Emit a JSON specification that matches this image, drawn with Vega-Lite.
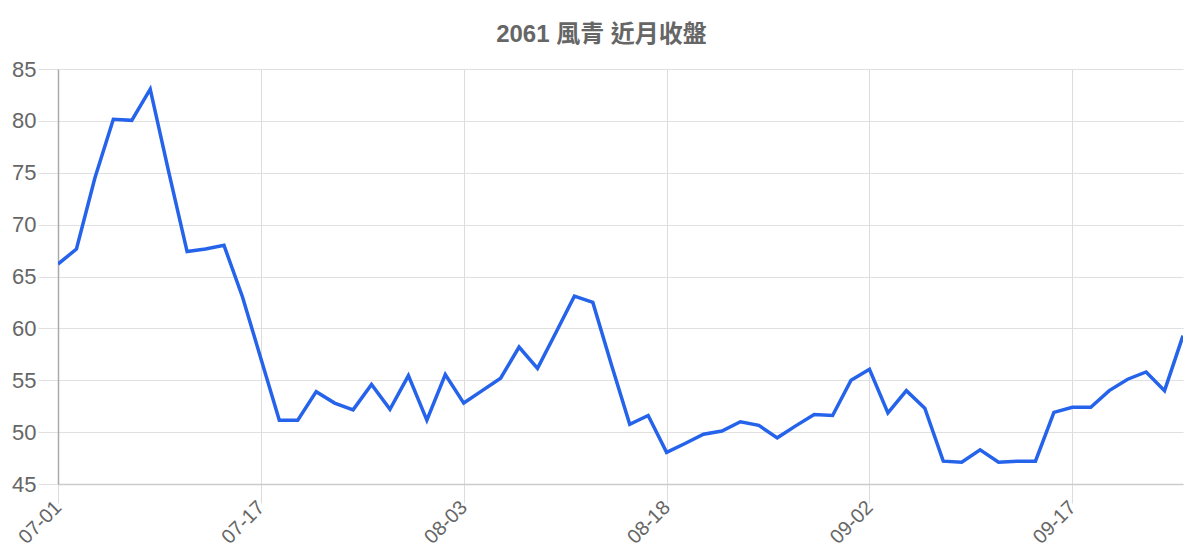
{
  "$schema": "https://vega.github.io/schema/vega-lite/v6.json",
  "width": 1125,
  "height": 415,
  "autosize": {"type": "none"},
  "padding": {"left": 58, "top": 69, "right": 17, "bottom": 76},
  "background": "white",
  "title": {
    "text": "2061 風青 近月收盤",
    "font": "Liberation Sans, Noto Sans CJK TC",
    "fontSize": 24,
    "fontWeight": "bold",
    "color": "#666666",
    "anchor": "middle",
    "offset": 11,
    "dx": -19
  },
  "config": {
    "view": {"stroke": null},
    "font": "Liberation Sans, Noto Sans CJK TC"
  },
  "data": {
    "values": [
      {"date": "07-01", "close": 66.2},
      {"date": "07-02", "close": 67.65},
      {"date": "07-03", "close": 74.5},
      {"date": "07-04", "close": 80.15},
      {"date": "07-07", "close": 80.05},
      {"date": "07-08", "close": 83.05},
      {"date": "07-09", "close": 75.1},
      {"date": "07-10", "close": 67.4},
      {"date": "07-11", "close": 67.65},
      {"date": "07-14", "close": 68.0},
      {"date": "07-15", "close": 63.05},
      {"date": "07-17", "close": 57.1},
      {"date": "07-18", "close": 51.15},
      {"date": "07-21", "close": 51.15},
      {"date": "07-22", "close": 53.9},
      {"date": "07-23", "close": 52.8},
      {"date": "07-24", "close": 52.15},
      {"date": "07-25", "close": 54.6},
      {"date": "07-28", "close": 52.2},
      {"date": "07-29", "close": 55.45},
      {"date": "07-30", "close": 51.15},
      {"date": "07-31", "close": 55.55},
      {"date": "08-03", "close": 52.8},
      {"date": "08-04", "close": 54.0},
      {"date": "08-05", "close": 55.2},
      {"date": "08-06", "close": 58.2},
      {"date": "08-07", "close": 56.15},
      {"date": "08-08", "close": 59.6},
      {"date": "08-11", "close": 63.1},
      {"date": "08-12", "close": 62.5},
      {"date": "08-13", "close": 56.55},
      {"date": "08-14", "close": 50.75},
      {"date": "08-15", "close": 51.6},
      {"date": "08-18", "close": 48.05},
      {"date": "08-19", "close": 48.9},
      {"date": "08-20", "close": 49.8},
      {"date": "08-21", "close": 50.1},
      {"date": "08-22", "close": 51.0},
      {"date": "08-25", "close": 50.65},
      {"date": "08-26", "close": 49.45},
      {"date": "08-27", "close": 50.6},
      {"date": "08-28", "close": 51.7},
      {"date": "08-29", "close": 51.6},
      {"date": "09-01", "close": 55.0},
      {"date": "09-02", "close": 56.05},
      {"date": "09-03", "close": 51.85},
      {"date": "09-04", "close": 54.0},
      {"date": "09-05", "close": 52.3},
      {"date": "09-08", "close": 47.2},
      {"date": "09-09", "close": 47.1},
      {"date": "09-10", "close": 48.3},
      {"date": "09-11", "close": 47.1},
      {"date": "09-12", "close": 47.2},
      {"date": "09-15", "close": 47.2},
      {"date": "09-16", "close": 51.9},
      {"date": "09-17", "close": 52.4},
      {"date": "09-18", "close": 52.4},
      {"date": "09-19", "close": 54.0},
      {"date": "09-22", "close": 55.1},
      {"date": "09-23", "close": 55.8},
      {"date": "09-24", "close": 54.0},
      {"date": "09-25", "close": 59.3}
    ]
  },
  "mark": {"type": "line", "color": "#2563eb", "strokeWidth": 3.5, "strokeJoin": "miter", "clip": true},
  "encoding": {
    "x": {
      "field": "date",
      "type": "ordinal",
      "sort": null,
      "scale": {"type": "point", "padding": 0},
      "axis": {
        "title": null,
        "values": ["07-01", "07-17", "08-03", "08-18", "09-02", "09-17"],
        "grid": true,
        "gridColor": "#dcdcdc",
        "gridWidth": 1,
        "domain": true,
        "domainColor": "#cccccc",
        "domainWidth": 1.5,
        "ticks": true,
        "tickSize": 19,
        "tickColor": "#dcdcdc",
        "labelAngle": -45,
        "labelAlign": "right",
        "labelBaseline": "middle",
        "labelPadding": 1,
        "labelFontSize": 20,
        "labelColor": "#666666",
        "labelFont": "Liberation Sans"
      }
    },
    "y": {
      "field": "close",
      "type": "quantitative",
      "scale": {"domain": [45, 85], "nice": false, "zero": false},
      "axis": {
        "title": null,
        "values": [45, 50, 55, 60, 65, 70, 75, 80, 85],
        "grid": true,
        "gridColor": "#e0e0e0",
        "gridWidth": 1,
        "domain": true,
        "domainColor": "#aaaaaa",
        "domainWidth": 1.5,
        "ticks": true,
        "tickSize": 20,
        "tickColor": "#e0e0e0",
        "labelPadding": 2,
        "labelFontSize": 22,
        "labelColor": "#666666",
        "labelFont": "Liberation Sans"
      }
    }
  }
}
